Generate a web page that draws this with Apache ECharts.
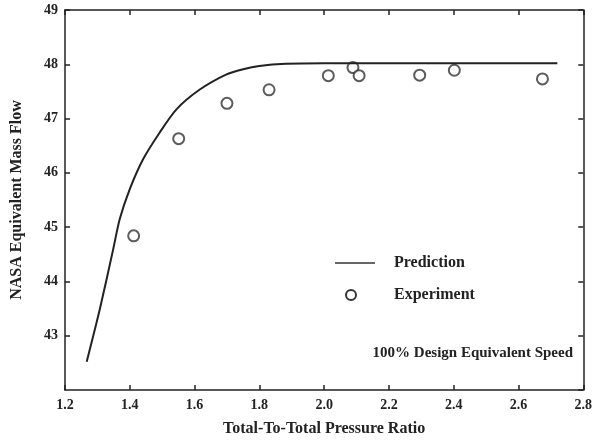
<!DOCTYPE html>
<html>
<head>
<meta charset="utf-8">
<script src="https://cdn.jsdelivr.net/npm/echarts@6/dist/echarts.min.js"></script>
<style>html,body{margin:0;padding:0;background:#fff}#c{width:595px;height:442px}</style>
</head>
<body>
<div id="c"></div>
<script>
var predX = [1.267, 1.308, 1.349, 1.369, 1.400, 1.441, 1.492, 1.544, 1.615, 1.697, 1.750, 1.800, 1.882, 2.000, 2.200, 2.400, 2.600, 2.720];
var predY = [42.52, 43.50, 44.60, 45.15, 45.70, 46.25, 46.74, 47.17, 47.53, 47.81, 47.91, 47.97, 48.01, 48.02, 48.02, 48.02, 48.02, 48.02];
var expX = [1.412, 1.551, 1.700, 1.830, 2.013, 2.089, 2.108, 2.295, 2.402, 2.674];
var expY = [44.84, 46.63, 47.28, 47.53, 47.79, 47.94, 47.79, 47.80, 47.89, 47.73];
var xTicks = ['1.2','1.4','1.6','1.8','2.0','2.2','2.4','2.6','2.8'];
var yTicks = ['42','43','44','45','46','47','48','49'];

var font = 'Liberation Serif';
var dark = '#222';
function zip(a, b) { return a.map(function (v, i) { return [v, b[i]]; }); }

var chart = echarts.init(document.getElementById('c'), null, {renderer: 'canvas'});
var axisLine = {show: true, lineStyle: {color: dark, width: 1.5}};
var tick = {show: true, inside: true, length: 5, lineStyle: {color: dark, width: 1.5}};
chart.setOption({
  backgroundColor: '#fff',
  animation: false,
  grid: {left: 65, right: 10, top: 10, bottom: 50},
  xAxis: [{
    type: 'value', min: 1.2, max: 2.8, interval: 0.2, position: 'bottom',
    name: 'Total-To-Total Pressure Ratio', nameLocation: 'middle', nameGap: 31,
    nameTextStyle: {fontFamily: font, fontWeight: 'bold', fontSize: 16, color: dark},
    axisLine: axisLine, axisTick: tick, splitLine: {show: false},
    axisLabel: {fontFamily: font, fontWeight: 'bold', fontSize: 14, color: dark, margin: 8,
      formatter: function (v) { return xTicks[Math.round((v - 1.2) / 0.2)]; }}
  }, {
    type: 'value', min: 1.2, max: 2.8, interval: 0.2, position: 'top',
    axisLine: axisLine, axisTick: tick, axisLabel: {show: false}, splitLine: {show: false}
  }],
  yAxis: [{
    type: 'value', min: 42, max: 49, interval: 1, position: 'left',
    name: 'NASA Equivalent Mass Flow', nameLocation: 'middle', nameGap: 40, nameRotate: 90,
    nameTextStyle: {fontFamily: font, fontWeight: 'bold', fontSize: 16, color: dark},
    axisLine: axisLine, axisTick: tick, splitLine: {show: false},
    axisLabel: {fontFamily: font, fontWeight: 'bold', fontSize: 14, color: dark, margin: 7, showMinLabel: false,
      formatter: function (v) { return yTicks[Math.round(v - 42)]; }}
  }, {
    type: 'value', min: 42, max: 49, interval: 1, position: 'right',
    axisLine: axisLine, axisTick: tick, axisLabel: {show: false}, splitLine: {show: false}
  }],
  legend: {
    orient: 'vertical', left: 330, top: 250, itemGap: 16, itemWidth: 40, itemHeight: 12,
    textStyle: {fontFamily: font, fontWeight: 'bold', fontSize: 16, color: dark, padding: [0, 0, 0, 14]},
    data: [{name: 'Prediction', icon: 'path://M0,5L40,5L40,7L0,7Z', itemStyle: {color: '#666', borderWidth: 0}},
           {name: 'Experiment', icon: 'path://M0,0L40,0L40,12L0,12Z', itemStyle: {color: 'rgba(0,0,0,0)', borderWidth: 0}}]
  },
  graphic: [{
    type: 'circle', left: 345, top: 289,
    shape: {r: 5}, style: {fill: '#fff', stroke: '#333', lineWidth: 2}
  }, {
    type: 'text', right: 22, top: 346,
    style: {text: '100% Design Equivalent Speed', fontFamily: font, fontWeight: 'bold', fontSize: 15, fill: dark}
  }],
  series: [{
    name: 'Prediction', type: 'line', smooth: 0.25, symbol: 'none',
    data: zip(predX, predY), lineStyle: {color: dark, width: 2, join: 'round'}, itemStyle: {color: '#666'}
  }, {
    name: 'Experiment', type: 'scatter', symbol: 'circle', symbolSize: 11,
    data: zip(expX, expY), itemStyle: {color: '#fff', borderColor: '#333', borderWidth: 2}
  }]
});
</script>
</body>
</html>
